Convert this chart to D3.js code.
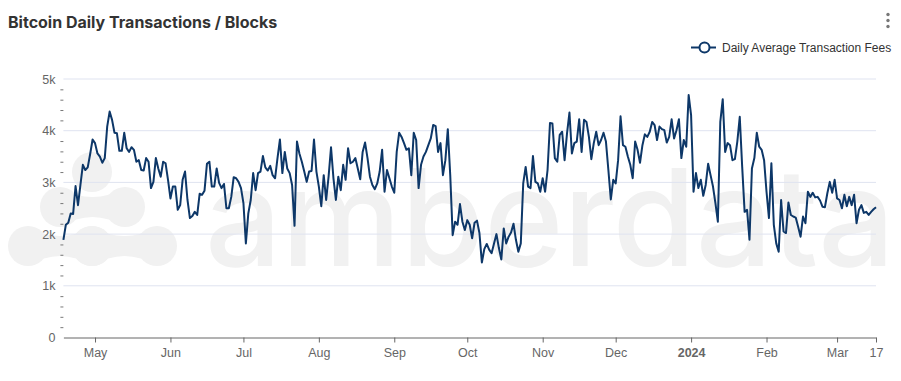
<!DOCTYPE html>
<html>
<head>
<meta charset="utf-8">
<script src="https://cdn.jsdelivr.net/npm/d3@7"></script>
<style>
  html, body { margin: 0; padding: 0; background: #fff; }
  #chart { width: 901px; height: 381px; }
</style>
</head>
<body>
<div id="chart"></div>
<script>
// 图表数据
const chartTitle = "Bitcoin Daily Transactions / Blocks";
const seriesName = "Daily Average Transaction Fees";
const startDay = "2023-04-18";   // 第一天
const endDay = "2024-03-17";     // 最后一天

// 每天一个值 (2023-04-18 .. 2024-03-17)
const fees = [
  1890, 2180, 2220, 2400, 2390, 2930, 2560, 2950, 3340, 3240,
  3290, 3550, 3830, 3760, 3560, 3500, 3380, 3470, 4080, 4370,
  4210, 3960, 3950, 3610, 3610, 3960, 3660, 3590, 3680, 3630,
  3400, 3430, 3240, 3230, 3470, 3400, 2890, 3010, 3470, 3270,
  3110, 3400, 3370, 3050, 2690, 2920, 2920, 2470, 2560, 3050,
  3210, 2660, 2310, 2350, 2430, 2370, 2780, 2760, 2840, 3360,
  3400, 2920, 2920, 3270, 2990, 2890, 2970, 2500, 2500, 2720,
  3100, 3080, 3010, 2890, 2600, 1820, 2400, 2660, 3180, 2850,
  3180, 3210, 3510, 3290, 3230, 3320, 3140, 3080, 3470, 3830,
  3180, 3590, 3270, 3180, 2950, 2160, 3790, 3560, 3400, 3210,
  3010, 3210, 3220, 3830, 3210, 2920, 2540, 3140, 2660, 3110,
  3680, 3080, 2660, 3110, 2850, 3340, 3050, 3660, 3370, 3400,
  3470, 3270, 3060, 3590, 3770, 3470, 3110, 2950, 2870, 2980,
  3210, 3630, 2820, 3240, 3080, 2920, 2800, 3590, 3960, 3880,
  3760, 3630, 3660, 3140, 3960, 3820, 2890, 3340, 3500, 3590,
  3720, 3850, 4110, 4090, 3590, 3760, 3140, 3430, 4030, 3140,
  1980, 2240, 2180, 2580, 2240, 2080, 2270, 2180, 1920, 2220,
  2260, 2020, 1450, 1710, 1810, 1700, 1630, 1820, 2000, 1730,
  1510, 2110, 1820, 1950, 2030, 2200, 1890, 1660, 1820, 2980,
  3300, 2920, 2890, 3510, 3010, 2980, 2820, 3080, 2820, 3240,
  4150, 4140, 3470, 3400, 3920, 3980, 3430, 3950, 4350, 3560,
  3760, 3790, 4220, 3590, 4210, 4170, 3880, 3450, 3760, 3980,
  3720, 3820, 3960, 3790, 3240, 2670, 3050, 2980, 3430, 4280,
  3720, 3690, 3500, 3340, 3080, 3790, 3630, 3380, 3720, 3930,
  3880, 3980, 4170, 4110, 3820, 4080, 4030, 4010, 3770, 3880,
  4220, 3850, 4010, 4220, 3470, 3820, 3690, 4690, 4300, 2820,
  3180, 2890, 3050, 2740, 2950, 3360, 3140, 2920, 2600, 2240,
  4170, 4610, 3590, 3760, 3720, 3430, 3450, 3790, 4270, 3300,
  2430, 2470, 1890, 3270, 3470, 3960, 3690, 3630, 3430, 2820,
  2310, 3370, 2180, 1820, 1660, 2660, 2050, 2020, 2610, 2370,
  2340, 2320, 2140, 1950, 2340, 2210, 2820, 2720, 2800, 2710,
  2720, 2650, 2530, 2520, 2790, 3010, 2800, 3050, 2690, 2660,
  2500, 2760, 2540, 2720, 2560, 2760, 2210, 2470, 2560, 2410,
  2430, 2370, 2430, 2480, 2520
];

// 坐标轴刻度
const yTicks = [0, 1000, 2000, 3000, 4000, 5000];
const yTickLabels = ["0", "1k", "2k", "3k", "4k", "5k"];
const xTickDays = ["2023-05-01", "2023-06-01", "2023-07-01", "2023-08-01", "2023-09-01",
  "2023-10-01", "2023-11-01", "2023-12-01", "2024-01-01", "2024-02-01", "2024-03-01", "2024-03-17"];
const xTickLabels = ["May", "Jun", "Jul", "Aug", "Sep", "Oct", "Nov", "Dec", "2024", "Feb", "Mar", "17"];

const width = 901;
const height = 381;
const plotLeft = 63.4;
const plotRight = 876;
const plotTop = 79;
const plotBottom = 337.5;

const lineColor = "#0d3768";
const axisFont = "'Liberation Sans', Arial, sans-serif";

const parseDay = d3.utcParse("%Y-%m-%d");
const data = fees.map((v, i) => ({ date: d3.utcDay.offset(parseDay(startDay), i), value: v }));

const svg = d3.select("#chart")
  .append("svg")
  .attr("width", width)
  .attr("height", height)
  .attr("viewBox", [0, 0, width, height]);

const x = d3.scaleUtc()
  .domain([parseDay(startDay), parseDay(endDay)])
  .range([plotLeft, plotRight]);

const y = d3.scaleLinear()
  .domain([0, 5000])
  .range([plotBottom, plotTop]);

// 背景水印 (amberdata logo)
const wm = svg.append("g").attr("fill", "#f1f1f1");
const r = 20;
function blob(cx1, cx2, cy) {
  const mx = (cx1 + cx2) / 2;
  wm.append("path")
    .attr("d", `M${cx1},${cy - r} Q${mx},${cy} ${cx2},${cy - r} L${cx2},${cy + r} Q${mx},${cy} ${cx1},${cy + r} Z`);
  wm.append("circle").attr("cx", cx1).attr("cy", cy).attr("r", r);
  wm.append("circle").attr("cx", cx2).attr("cy", cy).attr("r", r);
}
wm.append("circle").attr("cx", 92).attr("cy", 172).attr("r", r);
blob(60, 125, 207);
blob(28, 92, 246);
blob(92, 157, 246);
wm.append("text")
  .attr("x", 205)
  .attr("y", 266)
  .attr("font-family", "Inter, sans-serif")
  .attr("font-weight", 500)
  .attr("font-size", 135)
  .attr("textLength", 690)
  .text("amberdata");

// 网格线
svg.append("g")
  .selectAll("line")
  .data(yTicks.filter(d => d > 0))
  .join("line")
  .attr("x1", plotLeft)
  .attr("x2", plotRight)
  .attr("y1", d => y(d))
  .attr("y2", d => y(d))
  .attr("stroke", "#dfe3f0")
  .attr("stroke-width", 1);

// Y 轴 (主刻度标签)
const yAxis = svg.append("g")
  .attr("transform", `translate(${plotLeft},0)`)
  .call(d3.axisLeft(y)
    .tickValues(yTicks)
    .tickFormat((d, i) => yTickLabels[i])
    .tickSize(0)
    .tickPadding(8));
yAxis.select(".domain").remove();
yAxis.selectAll("text")
  .attr("fill", "#666")
  .style("font-family", axisFont)
  .style("font-size", "12.5px");

// Y 轴小刻度
const minorTicks = d3.range(200, 5000, 200).filter(d => d % 1000 !== 0);
const yMinor = svg.append("g")
  .attr("transform", `translate(${plotLeft},0)`)
  .call(d3.axisLeft(y).tickValues(minorTicks).tickFormat("").tickSize(3));
yMinor.select(".domain").remove();
yMinor.selectAll("line").attr("stroke", "#777");

// X 轴
const xAxis = svg.append("g")
  .attr("transform", `translate(0,${plotBottom})`)
  .call(d3.axisBottom(x)
    .tickValues(xTickDays.map(parseDay))
    .tickFormat((d, i) => xTickLabels[i])
    .tickSize(5)
    .tickSizeOuter(0)
    .tickPadding(6));
xAxis.select(".domain").attr("stroke", "#666");
xAxis.selectAll(".tick line").attr("stroke", "#666");
xAxis.selectAll("text")
  .attr("fill", "#666")
  .style("font-family", axisFont)
  .style("font-size", "12.5px")
  .style("font-weight", (d, i) => xTickLabels[i] === "2024" ? "bold" : "normal");

// 折线
const line = d3.line()
  .x(d => x(d.date))
  .y(d => y(d.value));

svg.append("path")
  .datum(data)
  .attr("fill", "none")
  .attr("stroke", lineColor)
  .attr("stroke-width", 2)
  .attr("stroke-linejoin", "round")
  .attr("d", line);

// 标题
svg.append("text")
  .attr("x", 8)
  .attr("y", 28)
  .attr("fill", "#333")
  .attr("font-family", "Inter, sans-serif")
  .attr("font-weight", 700)
  .attr("font-size", 16)
  .text(chartTitle);

// 右上角菜单
svg.append("g")
  .selectAll("circle")
  .data([14.5, 20.5, 26.5])
  .join("circle")
  .attr("cx", 888)
  .attr("cy", d => d)
  .attr("r", 1.7)
  .attr("fill", "#777");

// 图例
const legend = svg.append("g").attr("transform", "translate(691,47.5)");
legend.append("line")
  .attr("x1", 0).attr("x2", 25)
  .attr("stroke", lineColor)
  .attr("stroke-width", 2);
legend.append("circle")
  .attr("cx", 13.5)
  .attr("r", 5)
  .attr("fill", "#fff")
  .attr("stroke", lineColor)
  .attr("stroke-width", 2);
legend.append("text")
  .attr("x", 31)
  .attr("y", 4.5)
  .attr("fill", "#333")
  .style("font-family", axisFont)
  .style("font-size", "12px")
  .text(seriesName);
</script>
</body>
</html>
